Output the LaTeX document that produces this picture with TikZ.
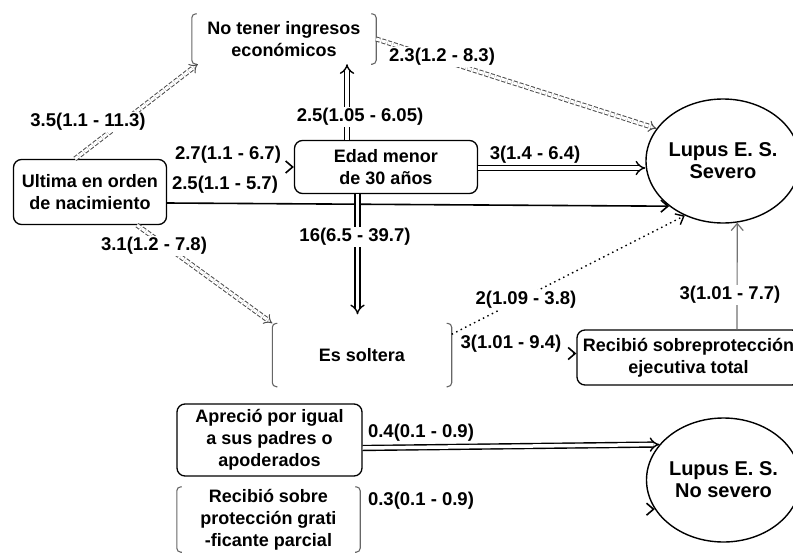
\documentclass[tikz,border=0pt]{standalone}
\usepackage{fontspec}
\setmainfont{Liberation Sans}
\usetikzlibrary{arrows.meta,shapes.geometric,calc}
\begin{document}
\begin{tikzpicture}[x=1pt,y=-1pt,
  txt/.style={font=\fontsize{18}{22}\selectfont\bfseries, align=center},
  boxn/.style={txt, draw=black, line width=1.3pt, rounded corners=8pt, inner sep=0pt},
  brk/.style={txt, inner sep=0pt},
  brkline/.style={draw=black!60, line width=1.1pt, rounded corners=4pt},
  circ/.style={ellipse, draw=black, line width=1.4pt, font=\fontsize{20}{22}\selectfont\bfseries, align=center, inner sep=0pt},
  lab/.style={font=\fontsize{18.5}{20}\selectfont\bfseries, fill=white, inner sep=1pt},
  dblsolid/.style={draw=black, double, double distance=3.5pt, line width=1.4pt, -{Implies}},
  dbldash/.style={draw=black!70, double, double distance=3pt, line width=1pt, dash pattern=on 4pt off 2pt, -{Implies}},
  single/.style={draw=black, line width=1.6pt, -{Straight Barb[length=7pt,width=12pt]}},
  thin/.style={draw=black!55, line width=1.2pt, -{Straight Barb[length=7pt,width=12pt]}},
  dots/.style={draw=black, line width=1.4pt, dash pattern=on 1.5pt off 3.5pt, -{Straight Barb[length=7pt,width=12pt]}},
  tip/.style={draw=black, line width=1.6pt, -{Straight Barb[length=7pt,width=12pt]}}
]
\useasboundingbox[fill=white] (0,0) rectangle (793,552);

% nodes
\node[brk, minimum width=184pt, minimum height=50pt] (inc) at (284,39) {No tener ingresos\\económicos};
\node[boxn, minimum width=183pt, minimum height=53pt] (edad) at (386,167) {Edad menor\\de 30 años};
\node[boxn, minimum width=153pt, minimum height=65pt] (ult) at (90,192) {Ultima en orden\\de nacimiento};
\node[circ, minimum width=134pt, minimum height=124pt] (sev) at (723,161) {Lupus E. S.\\Severo};
\node[brk, minimum width=179pt, minimum height=63pt] (solt) at (362,355) {Es soltera};
\node[boxn, minimum width=223pt, minimum height=55pt] (rec) at (688.5,357.5) {Recibió sobreprotección\\ejecutiva total};
\node[boxn, minimum width=185pt, minimum height=72pt] (apr) at (269.5,440) {Apreció por igual\\a sus padres o\\apoderados};
\node[brk, minimum width=183pt, minimum height=65pt] (grat) at (268.5,519.5) {Recibió sobre\\protección grati\\-ficante parcial};
\node[circ, minimum width=137pt, minimum height=124pt] (nosev) at (723.5,480) {Lupus E. S.\\No severo};

% bracket sides
\foreach \n in {inc,solt,grat}{
  \draw[brkline] ([xshift=5pt]\n.north west) -- (\n.north west) -- (\n.south west) -- ([xshift=5pt]\n.south west);
  \draw[brkline] ([xshift=-5pt]\n.north east) -- (\n.north east) -- (\n.south east) -- ([xshift=-5pt]\n.south east);
}

% connectors
\draw[dbldash] ([xshift=-15pt]ult.north) -- ([xshift=6pt]inc.south west);
\draw[dbldash] (inc.east) -- (sev.154);
\draw[dblsolid] ([xshift=-39pt]edad.north) -- ([xshift=-39pt]edad.north |- inc.south);
\draw[tip] ([xshift=-3pt]edad.west) -- (edad.west);
\draw[dblsolid] ([yshift=-1pt]edad.east) -- ([yshift=-1pt]edad.east -| sev.west);
\draw[single] ([yshift=-11pt]ult.east) -- (sev.220);
\draw[dblsolid, shorten >=9pt] ([xshift=-28.5pt]edad.south) -- ([xshift=-28.5pt]edad.south |- solt.north);
\draw[dbldash] ([xshift=47pt]ult.south) -- (solt.north west);
\draw[dots] ([yshift=-11pt]solt.north east) -- (sev.235);
\draw[tip] ([xshift=-3pt,yshift=4pt]rec.west) -- ([yshift=4pt]rec.west);
\draw[thin] ([xshift=48.5pt]rec.north) -- (sev.283);
\draw[dblsolid] ([yshift=-8pt]apr.east) -- (nosev.151);
\draw[tip] ([xshift=-3pt]nosev.203) -- (nosev.203);

% labels
\node[lab] (l1) at (88,122) {3.5(1.1 - 11.3)};
\node[lab] (l2) at (442,57) {2.3(1.2 - 8.3)};
\node[lab] (l3) at (360,117) {2.5(1.05 - 6.05)};
\node[lab] (l4) at (228,155) {2.7(1.1 - 6.7)};
\node[lab] (l5) at (535,155) {3(1.4 - 6.4)};
\node[lab] (l6) at (225,185) {2.5(1.1 - 5.7)};
\node[lab] (l7) at (355,237) {16(6.5 - 39.7)};
\node[lab] (l8) at (154,246) {3.1(1.2 - 7.8)};
\node[lab] (l9) at (526,300) {2(1.09 - 3.8)};
\node[lab] (l10) at (511,344) {3(1.01 - 9.4)};
\node[lab] (l11) at (730,295) {3(1.01 - 7.7)};
\node[lab] (l12) at (421,433) {0.4(0.1 - 0.9)};
\node[lab] (l13) at (421,501) {0.3(0.1 - 0.9)};
\end{tikzpicture}
\end{document}
